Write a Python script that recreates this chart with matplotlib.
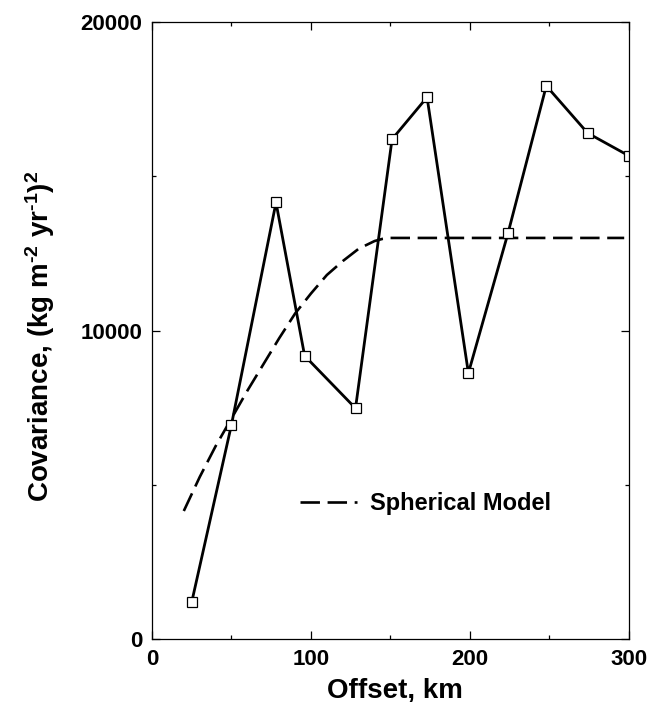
import numpy as np
import matplotlib
matplotlib.use("Agg")
from matplotlib import pyplot as plt
from matplotlib.ticker import MultipleLocator

# covariance estimates per lag bin
offset_km = [25, 50, 78, 96, 128, 151, 173, 199, 224, 248, 274, 300]
covariance = [1200, 6950, 14150, 9180, 7480, 16200, 17560, 8620, 13170, 17930, 16400, 15660]

# spherical model curve
model_x = [20, 30, 40, 50, 60, 70, 80, 90, 100, 110, 120, 130, 140, 145, 150, 175, 200, 250, 297]
model_y = [4150, 5250, 6250, 7150, 8050, 8900, 9750, 10550, 11200, 11800, 12250, 12650,
           12900, 12970, 13000, 13000, 13000, 13000, 13000]

x_ticks = [0, 100, 200, 300]
y_ticks = [0, 10000, 20000]

plt.rcParams['font.family'] = ['Liberation Sans', 'DejaVu Sans']
plt.rcParams['font.weight'] = 'bold'
plt.rcParams['mathtext.fontset'] = 'custom'
plt.rcParams['mathtext.rm'] = 'Liberation Sans:bold'
plt.rcParams['mathtext.bf'] = 'Liberation Sans:bold'
plt.rcParams['mathtext.default'] = 'bf'
plt.rcParams['lines.scale_dashes'] = False

fig = plt.figure(figsize=(6.56, 7.02), dpi=100)
ax = fig.add_axes([0.2317, 0.0897, 0.7271, 0.879])

ax.plot(model_x, model_y, color='black', lw=1.9, dashes=(14, 5.5), label='Spherical Model')
ax.plot(offset_km, covariance, color='black', lw=2.0, marker='s', markersize=6.5,
        markerfacecolor='white', markeredgecolor='black', markeredgewidth=0.9)

ax.set_xlim(0, 300)
ax.set_ylim(0, 20000)
ax.set_xticks(x_ticks)
ax.set_yticks(y_ticks)
ax.xaxis.set_minor_locator(MultipleLocator(50))
ax.yaxis.set_minor_locator(MultipleLocator(5000))
ax.tick_params(which='both', direction='in', top=True, right=True, labelsize=16, width=0.9)
ax.tick_params(which='major', length=6, pad=7)
ax.tick_params(which='minor', length=3)
for lab in ax.get_xticklabels() + ax.get_yticklabels():
    lab.set_fontweight('bold')
for s in ax.spines.values():
    s.set_linewidth(0.9)

ax.set_xlabel('Offset, km', fontsize=20, fontweight='bold')
ax.set_ylabel('Covariance, (kg m$^{\\text{-}2}$ yr$^{\\text{-}1}$)$^{2}$', fontsize=20, fontweight='bold')
ax.xaxis.set_label_coords(0.51, -0.062)
ax.yaxis.set_label_coords(-0.2, 0.49)

ax.legend(loc='center left', bbox_to_anchor=(0.31, 0.22), frameon=False, fontsize=17,
          handlelength=2.4, handletextpad=0.55, borderpad=0, borderaxespad=0)

plt.savefig('out.png', dpi=100)
